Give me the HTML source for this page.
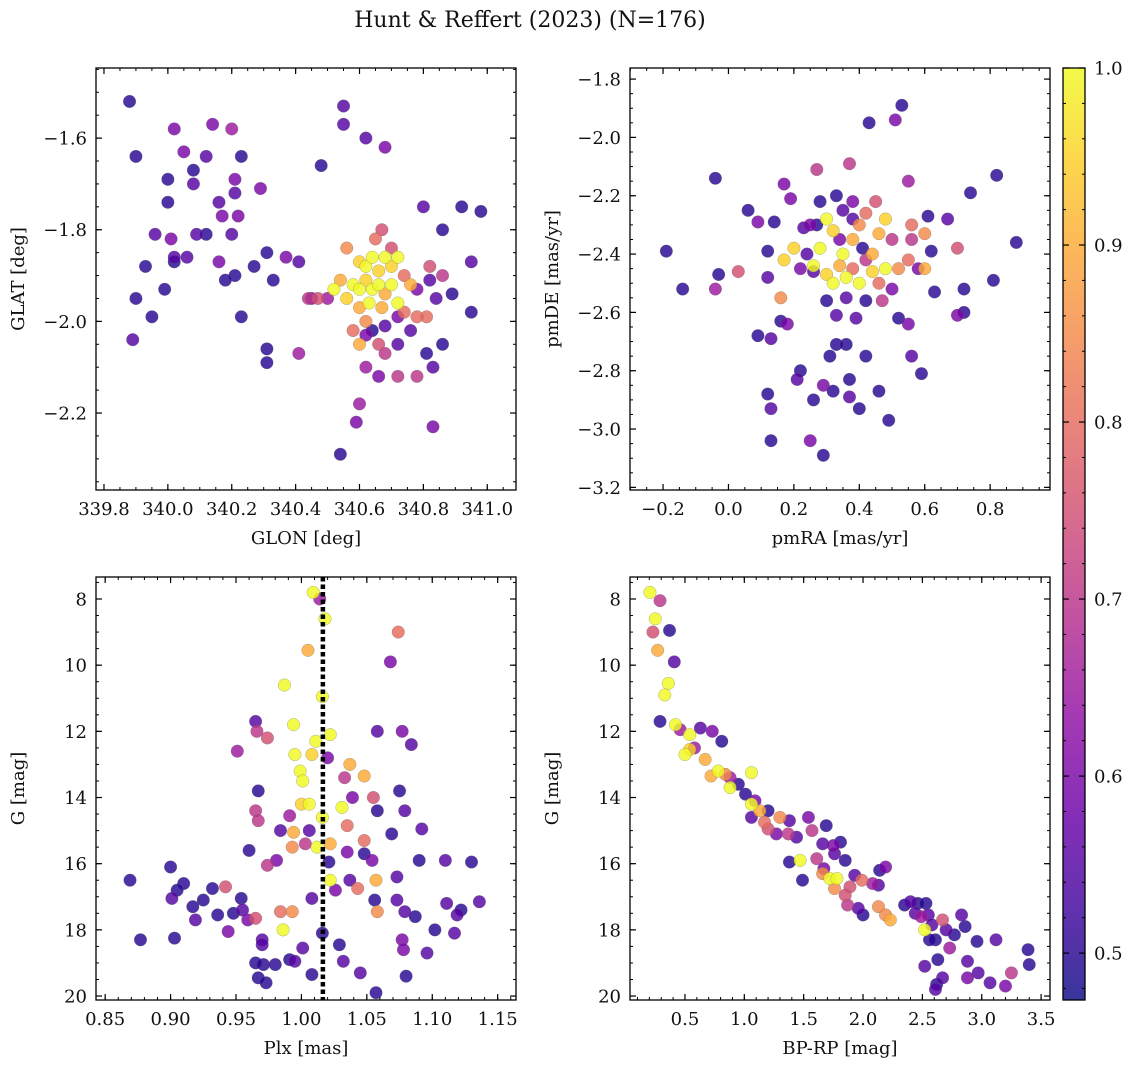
<!DOCTYPE html>
<html><head><meta charset="utf-8">
<style>
html,body{margin:0;padding:0;background:#fff;}
svg{display:block;font-family:"DejaVu Serif","Liberation Serif",serif;}
</style></head>
<body>
<svg id="fig" width="1136" height="1067" viewBox="0 0 1136 1067" xmlns="http://www.w3.org/2000/svg">
<text x="530" y="27" text-anchor="middle" font-size="22" fill="#111">Hunt &amp; Reffert (2023) (N=176)</text>
</svg>
<script>
// ---- Panel 1: sky positions ----
const skyLon=[339.88,339.90,340.02,340.05,340.14,340.20,340.12,340.23,340.00,340.08,340.08,340.21,340.16,340.21,340.29,340.00,340.17,340.22,339.96,340.01,340.09,340.12,340.20,339.93,340.02,340.02,340.06,340.16,340.21,340.27,340.31,340.33,340.37,340.41,340.18,339.99,339.90,339.95,339.89,340.23,340.45,340.47,340.31,340.31,340.41,340.48,340.55,340.55,340.62,340.68,340.54,340.59,340.60,340.83,340.80,340.92,340.98,340.86,340.95,340.89,340.95,340.86,340.83,340.81,340.72,340.62,340.66,340.68,340.66,340.62,340.72,340.78,340.81,340.78,
340.56,340.60,340.62,340.64,340.66,340.68,340.70,340.72,340.58,340.60,340.62,340.64,340.66,340.68,340.70,340.74,340.76,340.52,340.54,340.56,340.60,340.63,340.67,340.72,340.74,340.58,340.60,340.62,340.65,340.67,340.70,340.78,340.82,340.50,340.44,340.76,340.72,340.68,340.64,340.82,340.84,340.86];
const skyLat=[-1.52,-1.64,-1.58,-1.63,-1.57,-1.58,-1.64,-1.64,-1.69,-1.67,-1.70,-1.69,-1.74,-1.72,-1.71,-1.74,-1.77,-1.77,-1.81,-1.82,-1.81,-1.81,-1.81,-1.88,-1.86,-1.87,-1.86,-1.87,-1.90,-1.88,-1.85,-1.91,-1.86,-1.87,-1.91,-1.93,-1.95,-1.99,-2.04,-1.99,-1.95,-1.95,-2.06,-2.09,-2.07,-1.66,-1.53,-1.57,-1.60,-1.62,-2.29,-2.22,-2.18,-2.23,-1.75,-1.75,-1.76,-1.80,-1.87,-1.94,-1.98,-2.05,-2.10,-2.07,-2.05,-2.03,-2.05,-2.07,-2.12,-2.10,-2.12,-2.12,-1.99,-1.99,
-1.84,-1.87,-1.88,-1.86,-1.89,-1.86,-1.88,-1.86,-1.92,-1.93,-1.91,-1.93,-1.92,-1.94,-1.92,-1.90,-1.92,-1.93,-1.91,-1.95,-1.97,-1.96,-1.97,-1.96,-1.98,-2.02,-2.05,-2.00,-1.82,-1.80,-1.84,-1.93,-1.88,-1.95,-1.95,-2.02,-1.99,-2.01,-2.02,-1.91,-1.95,-1.90];
const skyProb=[0.5,0.5,0.6,0.6,0.6,0.65,0.55,0.5,0.5,0.5,0.55,0.6,0.55,0.55,0.6,0.5,0.6,0.6,0.55,0.6,0.55,0.5,0.55,0.5,0.55,0.5,0.55,0.6,0.5,0.5,0.5,0.5,0.6,0.55,0.5,0.5,0.5,0.5,0.55,0.5,0.6,0.75,0.5,0.5,0.65,0.5,0.55,0.55,0.55,0.6,0.5,0.6,0.65,0.6,0.55,0.5,0.5,0.5,0.55,0.5,0.5,0.5,0.55,0.5,0.55,0.6,0.75,0.7,0.6,0.65,0.7,0.7,0.8,0.8,
0.85,0.95,1.0,1.0,0.95,1.0,0.95,1.0,1.0,1.0,0.95,1.0,1.0,0.9,1.0,0.8,0.9,1.0,0.9,0.95,0.9,1.0,0.9,1.0,0.8,0.8,0.9,0.85,0.8,0.75,0.75,0.6,0.75,0.65,0.7,0.55,0.6,0.55,0.5,0.55,0.55,0.7];

// ---- Panel 2: proper motions ----
const pmRA=[-0.19,-0.14,-0.04,-0.03,-0.04,0.03,0.06,0.09,0.09,0.12,0.13,0.13,0.13,0.12,0.12,0.14,0.17,0.19,0.16,0.16,0.18,0.17,0.20,0.22,0.21,0.23,0.26,0.26,0.25,0.29,0.29,0.27,0.31,0.32,0.33,0.33,0.36,0.37,0.37,0.37,0.39,0.40,0.43,0.42,0.46,0.49,0.52,0.55,0.56,0.53,0.51,0.55,0.61,0.63,0.60,0.62,0.67,0.70,0.72,0.70,0.72,0.74,0.81,0.82,0.88,0.59,
0.30,0.32,0.28,0.35,0.38,0.40,0.42,0.45,0.46,0.48,0.50,0.52,0.48,0.44,0.40,0.36,0.32,0.30,0.26,0.24,0.22,0.34,0.38,0.42,0.46,0.50,0.55,0.56,0.56,0.60,0.58,0.35,0.38,0.33,0.28,0.25,0.36,0.42,0.47,0.30,0.38,0.34,0.27,0.44,0.41];
const pmDE=[-2.39,-2.52,-2.14,-2.47,-2.52,-2.46,-2.25,-2.29,-2.68,-2.88,-3.04,-2.93,-2.69,-2.39,-2.48,-2.29,-2.16,-2.21,-2.55,-2.63,-2.64,-2.42,-2.38,-2.80,-2.83,-2.31,-2.46,-2.90,-3.04,-2.85,-3.09,-2.11,-2.75,-2.87,-2.71,-2.61,-2.71,-2.09,-2.89,-2.83,-2.62,-2.93,-1.95,-2.75,-2.87,-2.97,-2.62,-2.64,-2.75,-1.89,-1.94,-2.15,-2.27,-2.53,-2.45,-2.39,-2.28,-2.38,-2.52,-2.61,-2.60,-2.19,-2.49,-2.13,-2.36,-2.81,
-2.28,-2.32,-2.38,-2.40,-2.35,-2.30,-2.26,-2.22,-2.33,-2.28,-2.35,-2.45,-2.45,-2.46,-2.50,-2.48,-2.50,-2.47,-2.44,-2.40,-2.45,-2.44,-2.45,-2.42,-2.50,-2.52,-2.42,-2.35,-2.30,-2.33,-2.45,-2.25,-2.22,-2.20,-2.22,-2.30,-2.55,-2.56,-2.56,-2.56,-2.28,-2.35,-2.30,-2.40,-2.38];
const pmProb=[0.5,0.5,0.5,0.5,0.65,0.75,0.5,0.6,0.5,0.5,0.5,0.55,0.55,0.5,0.55,0.5,0.6,0.6,0.85,0.5,0.6,0.95,0.95,0.5,0.55,0.55,0.55,0.5,0.6,0.6,0.5,0.7,0.5,0.5,0.5,0.55,0.5,0.7,0.55,0.5,0.55,0.5,0.5,0.5,0.5,0.5,0.5,0.6,0.55,0.5,0.6,0.65,0.5,0.5,0.9,0.5,0.55,0.75,0.5,0.6,0.5,0.5,0.5,0.5,0.5,0.5,
1.0,0.95,1.0,1.0,0.9,0.85,0.8,0.75,0.9,0.95,0.7,0.85,1.0,0.95,1.0,1.0,1.0,0.95,1.0,0.55,0.6,0.9,0.8,0.7,0.8,0.6,0.8,0.7,0.8,0.85,0.6,0.55,0.6,0.5,0.5,0.6,0.55,0.5,0.7,0.5,0.55,0.6,0.5,0.9,0.5];

// ---- Panel 3: parallax vs G ----
const plx=[1.009,1.014,1.018,1.074,1.068,1.005,0.987,1.016,0.965,0.994,0.966,0.974,1.022,1.058,1.077,1.084,1.011,0.995,0.951,1.008,1.020,0.999,1.037,1.001,1.033,1.048,1.075,0.967,1.039,1.000,1.006,1.031,1.055,0.965,0.967,0.991,1.016,1.035,1.058,1.079,0.984,0.994,1.006,1.048,1.069,1.092,0.993,1.003,1.012,1.022,0.960,1.035,1.048,1.054,0.974,0.981,1.021,1.090,1.110,1.130,1.022,1.057,1.073,0.869,0.900,0.910,0.905,0.901,0.932,0.942,0.925,0.917,0.954,0.955,0.948,0.936,0.959,0.919,0.984,0.993,0.986,0.970,0.944,0.965,1.008,1.026,1.037,1.043,1.056,1.058,1.073,1.079,1.087,1.111,1.122,1.119,1.136,1.102,1.117,1.077,1.078,1.080,1.045,1.057,1.029,1.016,1.001,0.991,0.995,0.980,0.971,0.965,0.967,0.973,1.008,1.096,0.877,0.903,0.970,1.032];
const gPlx=[7.8,8.0,8.6,9.0,9.9,9.55,10.6,10.95,11.7,11.8,12.0,12.2,12.1,12.0,12.0,12.4,12.3,12.7,12.6,12.7,12.8,13.2,13.0,13.5,13.4,13.35,13.8,13.8,14.0,14.2,14.2,14.3,14.0,14.4,14.7,14.55,14.6,14.85,14.4,14.4,15.0,15.05,15.0,15.3,15.1,14.95,15.5,15.4,15.5,15.4,15.6,15.65,15.7,15.9,16.05,15.9,15.95,15.9,15.9,15.95,16.5,16.5,16.4,16.5,16.1,16.6,16.8,17.05,16.75,16.7,17.1,17.3,17.05,17.4,17.5,17.55,17.7,17.7,17.45,17.45,18.0,18.3,18.05,17.65,17.05,16.8,16.5,16.75,17.1,17.45,17.1,17.45,17.6,17.2,17.4,17.55,17.15,18.0,18.1,18.3,18.6,19.4,19.3,19.9,18.45,18.1,18.55,18.9,18.95,19.05,19.05,19.0,19.45,19.6,19.35,18.7,18.3,18.25,18.45,18.95];
const plxProb=[1.0,0.65,1.0,0.8,0.6,0.9,1.0,1.0,0.55,1.0,0.7,0.75,1.0,0.55,0.6,0.55,1.0,1.0,0.65,0.95,0.6,1.0,0.9,1.0,0.7,0.9,0.5,0.5,0.6,0.95,1.0,1.0,0.75,0.7,0.7,0.65,1.0,0.8,0.5,0.55,0.55,0.9,0.55,0.8,0.5,0.55,0.85,0.7,1.0,0.9,0.5,0.6,0.5,0.6,0.7,0.6,0.5,0.5,0.55,0.5,1.0,0.9,0.55,0.5,0.5,0.5,0.5,0.55,0.5,0.75,0.5,0.5,0.5,0.55,0.5,0.5,0.6,0.55,0.8,0.85,1.0,0.55,0.6,0.75,0.55,0.6,0.55,0.8,0.5,0.85,0.55,0.55,0.5,0.55,0.5,0.55,0.55,0.5,0.55,0.6,0.6,0.5,0.55,0.5,0.5,0.5,0.55,0.5,0.55,0.5,0.5,0.5,0.5,0.5,0.5,0.55,0.5,0.5,0.55,0.55];
const plxRef=[1.0164];

// ---- Panel 4: colour-magnitude ----
const bpRp=[0.205,0.29,0.25,0.37,0.23,0.27,0.41,0.36,0.33,0.29,0.42,0.46,0.54,0.63,0.73,0.81,0.54,0.50,0.58,0.67,0.78,0.72,0.88,0.95,0.88,0.84,1.06,1.01,1.09,1.06,1.13,1.06,1.20,1.17,1.20,1.30,1.38,1.27,1.37,1.44,1.54,1.57,1.69,1.66,1.75,1.81,1.76,1.85,1.47,1.38,1.61,1.67,1.49,1.66,1.72,1.78,1.89,1.93,1.99,2.08,2.13,2.14,2.19,1.85,1.87,1.96,2.00,1.76,2.13,2.19,2.23,2.35,2.40,2.46,2.53,2.44,2.49,2.55,2.58,2.52,2.67,2.70,2.61,2.56,2.77,2.83,2.86,2.73,2.63,2.52,2.62,2.67,2.61,2.88,2.96,2.97,2.88,3.07,3.12,3.25,3.20,3.39,3.40];
const gCmd=[7.8,8.05,8.6,8.95,9.0,9.55,9.9,10.55,10.9,11.7,11.8,11.95,12.1,11.9,12.0,12.3,12.55,12.7,12.5,12.85,13.2,13.35,13.4,13.6,13.7,13.3,13.25,13.9,14.1,14.2,14.4,14.6,14.4,14.75,14.95,14.6,14.7,15.1,15.1,15.2,14.6,15.0,14.85,15.4,15.45,15.35,15.7,15.9,15.9,15.95,15.85,16.15,16.5,16.3,16.45,16.45,16.7,16.35,16.5,16.6,16.65,16.2,16.1,16.95,17.25,17.35,17.55,16.75,17.3,17.55,17.7,17.25,17.15,17.2,17.2,17.5,17.6,17.55,17.85,18.0,17.7,18.0,18.3,18.3,18.15,17.55,17.9,18.55,18.9,19.1,19.65,19.45,19.8,18.95,18.35,19.3,19.45,19.6,18.3,19.3,19.7,18.6,19.05];
const cmdProb=[1.0,0.7,1.0,0.5,0.75,0.9,0.55,1.0,1.0,0.5,1.0,0.65,1.0,0.55,0.6,0.5,0.95,1.0,0.65,0.9,1.0,0.9,0.65,0.5,1.0,0.85,1.0,0.5,0.6,1.0,0.9,0.55,0.5,0.8,0.75,0.85,0.55,0.6,0.7,0.55,0.6,0.7,0.5,0.55,0.6,0.5,0.55,0.5,1.0,0.5,0.7,0.6,0.5,0.85,1.0,1.0,0.75,0.55,0.8,0.65,0.55,0.5,0.6,0.75,0.7,0.55,0.5,0.85,0.85,0.85,0.9,0.5,0.55,0.5,0.5,0.55,0.65,0.55,0.55,1.0,0.75,0.55,0.5,0.5,0.5,0.55,0.5,0.65,0.5,0.55,0.5,0.55,0.55,0.55,0.5,0.55,0.6,0.55,0.55,0.7,0.6,0.5,0.5];

// ---- Colorbar ----
const cbarTicks=[0.5,0.6,0.7,0.8,0.9,1.0];
const cbarMin=0.4735, cbarMax=1.0;

const NS="http://www.w3.org/2000/svg";
const svg=document.getElementById('fig');
const FS=18;
function mk(tag,attrs,parent){const e=document.createElementNS(NS,tag);for(const k in attrs)e.setAttribute(k,attrs[k]);(parent||svg).appendChild(e);return e;}
const plasma=[[13,8,135],[65,4,157],[106,0,168],[143,13,164],[177,42,144],[204,71,120],[225,100,98],[242,132,75],[252,166,54],[252,206,37],[240,249,33]];
function cmap(v){let t=(v-cbarMin)/(cbarMax-cbarMin);t=Math.max(0,Math.min(1,t))*10;const i=Math.min(9,Math.floor(t)),f=t-i;const a=plasma[i],b=plasma[i+1];return 'rgb('+a.map((c,k)=>Math.round(c+(b[k]-c)*f)).join(',')+')';}

function panel(o){
  const g=mk('g',{});
  
  
  const sx=v=>o.x0+(v-o.xmin)/(o.xmax-o.xmin)*(o.x1-o.x0);
  const sy=v=>o.y1-(v-o.ymin)/(o.ymax-o.ymin)*(o.y1-o.y0);
  o.sx=sx;o.sy=sy;o.g=g;
  return o;
}
function axes(o){
  const g=o.g,sx=o.sx,sy=o.sy;
  const lo=(a,b)=>Math.min(a,b),hi=(a,b)=>Math.max(a,b);
  const xm0=lo(o.xmin,o.xmax),xm1=hi(o.xmin,o.xmax);
  for(let k=Math.ceil(xm0/o.xminor);k*o.xminor<=xm1;k++){const X=sx(k*o.xminor);
    mk('line',{x1:X,x2:X,y1:o.y1,y2:o.y1-3,stroke:'#000','stroke-width':1},g);
    mk('line',{x1:X,x2:X,y1:o.y0,y2:o.y0+3,stroke:'#000','stroke-width':1},g);}
  const ym0=lo(o.ymin,o.ymax),ym1=hi(o.ymin,o.ymax);
  for(let k=Math.ceil(ym0/o.yminor);k*o.yminor<=ym1;k++){const Y=sy(k*o.yminor);
    mk('line',{x1:o.x0,x2:o.x0+3,y1:Y,y2:Y,stroke:'#000','stroke-width':1},g);
    mk('line',{x1:o.x1,x2:o.x1-3,y1:Y,y2:Y,stroke:'#000','stroke-width':1},g);}
  o.xticks.forEach(v=>{const X=sx(v);
    mk('line',{x1:X,x2:X,y1:o.y1,y2:o.y1-6,stroke:'#000','stroke-width':1.2},g);
    mk('line',{x1:X,x2:X,y1:o.y0,y2:o.y0+6,stroke:'#000','stroke-width':1.2},g);
    const t=mk('text',{x:X,y:o.y1+25,'text-anchor':'middle','font-size':FS,fill:'#111'},g);
    t.textContent=(v<0?'\u2212':'')+Math.abs(v).toFixed(o.xdec);
    
    });
  o.yticks.forEach(v=>{const Y=sy(v);
    mk('line',{x1:o.x0,x2:o.x0+6,y1:Y,y2:Y,stroke:'#000','stroke-width':1.2},g);
    mk('line',{x1:o.x1,x2:o.x1-6,y1:Y,y2:Y,stroke:'#000','stroke-width':1.2},g);
    const t=mk('text',{x:o.x0-9,y:Y+6.5,'text-anchor':'end','font-size':FS,fill:'#111'},g);
    t.textContent=(v<0?'\u2212':'')+Math.abs(v).toFixed(o.ydec);
    
    });
  const fr=mk('rect',{x:o.x0,y:o.y0,width:o.x1-o.x0,height:o.y1-o.y0,fill:'none',stroke:'#000','stroke-width':1.3},g);
  
  
  const xl=mk('text',{x:(o.x0+o.x1)/2,y:o.y1+54,'text-anchor':'middle','font-size':FS,fill:'#111'},g);
  xl.textContent=o.xlabel;
  
  
  const yx=o.x0-72,yy=(o.y0+o.y1)/2;
  const yl=mk('text',{x:yx,y:yy,'text-anchor':'middle','font-size':FS,fill:'#111',transform:'rotate(-90 '+yx+' '+yy+')'},g);
  yl.textContent=o.ylabel;
  
  
}
function scatter(o,xs,ys,ps){
  const cl=mk('g',{},o.g);
  
  
  const idx=xs.map((_,i)=>i).sort((a,b)=>ps[a]-ps[b]);
  idx.forEach(i=>{
    const c=mk('circle',{cx:o.sx(xs[i]),cy:o.sy(ys[i]),r:6.3,fill:cmap(ps[i]),'fill-opacity':0.82,stroke:'#666','stroke-opacity':0.5,'stroke-width':0.5},cl);
    
    
  });
}

const p1=panel({name:'panel-sky',x0:96,x1:516,y0:68,y1:490,xmin:339.775,xmax:341.09,ymin:-2.368,ymax:-1.447,xticks:[339.8,340.0,340.2,340.4,340.6,340.8,341.0],yticks:[-1.6,-1.8,-2.0,-2.2],xminor:0.05,yminor:0.05,xdec:1,ydec:1,xlabel:'GLON [deg]',ylabel:'GLAT [deg]'});
scatter(p1,skyLon,skyLat,skyProb);axes(p1);

const p2=panel({name:'panel-proper-motion',x0:630,x1:1050,y0:68,y1:490,xmin:-0.301,xmax:0.983,ymin:-3.209,ymax:-1.762,xticks:[-0.2,0,0.2,0.4,0.6,0.8],yticks:[-1.8,-2.0,-2.2,-2.4,-2.6,-2.8,-3.0,-3.2],xminor:0.05,yminor:0.05,xdec:1,ydec:1,xlabel:'pmRA [mas/yr]',ylabel:'pmDE [mas/yr]'});
scatter(p2,pmRA,pmDE,pmProb);axes(p2);

const p3=panel({name:'panel-parallax',x0:96,x1:516,y0:577,y1:1000,xmin:0.843,xmax:1.164,ymin:20.12,ymax:7.335,xticks:[0.85,0.9,0.95,1.0,1.05,1.1,1.15],yticks:[8,10,12,14,16,18,20],xminor:0.01,yminor:0.5,xdec:2,ydec:0,xlabel:'Plx [mas]',ylabel:'G [mag]'});
scatter(p3,plx,gPlx,plxProb);
plxRef.forEach(v=>{const l=mk('line',{x1:p3.sx(v),x2:p3.sx(v),y1:p3.y0,y2:p3.y1,stroke:'#000','stroke-width':4.5,'stroke-dasharray':'4.5 3'},p3.g);

});
axes(p3);

const p4=panel({name:'panel-cmd',x0:630,x1:1050,y0:577,y1:1000,xmin:0.037,xmax:3.575,ymin:20.12,ymax:7.335,xticks:[0.5,1.0,1.5,2.0,2.5,3.0,3.5],yticks:[8,10,12,14,16,18,20],xminor:0.1,yminor:0.5,xdec:1,ydec:0,xlabel:'BP-RP [mag]',ylabel:'G [mag]'});
scatter(p4,bpRp,gCmd,cmdProb);axes(p4);

// colorbar
const cb=mk('g',{});


const defs=mk('defs',{},svg);
const lg=mk('linearGradient',{id:'cbg',x1:0,y1:1,x2:0,y2:0},defs);
plasma.forEach((c,i)=>{mk('stop',{offset:(i/10),'stop-color':'rgb('+c.join(',')+')','stop-opacity':0.82},lg);});
const cx0=1063,cx1=1085,cy0=68,cy1=1000;
mk('rect',{x:cx0,y:cy0,width:cx1-cx0,height:cy1-cy0,fill:'url(#cbg)'},cb);
const cby=v=>cy1-(v-cbarMin)/(cbarMax-cbarMin)*(cy1-cy0);
for(let k=24;k<=50;k++){const Y=cby(k*0.02);if(Y<cy0||Y>cy1)continue;mk('line',{x1:cx1,x2:cx1-3,y1:Y,y2:Y,stroke:'#000','stroke-width':1},cb);mk('line',{x1:cx0,x2:cx0+3,y1:Y,y2:Y,stroke:'#000','stroke-width':1},cb);}
cbarTicks.forEach(v=>{const Y=cby(v);
  mk('line',{x1:cx1,x2:cx1-6,y1:Y,y2:Y,stroke:'#000','stroke-width':1.2},cb);
  mk('line',{x1:cx0,x2:cx0+6,y1:Y,y2:Y,stroke:'#000','stroke-width':1.2},cb);
  const t=mk('text',{x:1094,y:Y+6.5,'font-size':FS,fill:'#111'},cb);
  t.textContent=v.toFixed(1);
  
  });
mk('rect',{x:cx0,y:cy0,width:cx1-cx0,height:cy1-cy0,fill:'none',stroke:'#000','stroke-width':1.3},cb);
</script>
</body></html>
